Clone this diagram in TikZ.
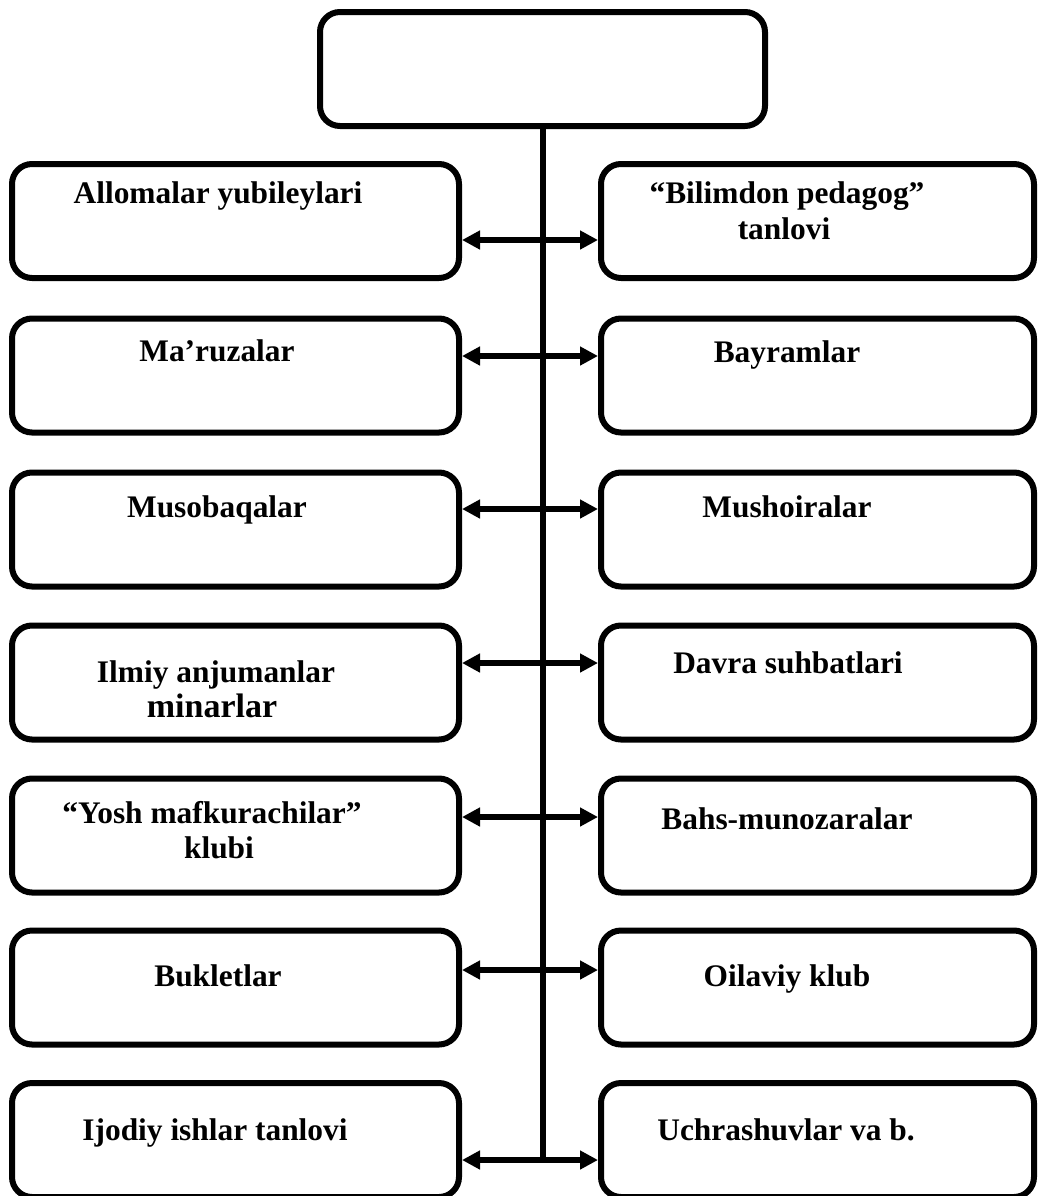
\documentclass[tikz,border=0pt]{standalone}
\usepackage{fontspec}
\setmainfont{Liberation Serif}
\usetikzlibrary{arrows.meta}

\tikzset{
  box/.style={draw, line width=3pt, rounded corners=10pt, inner sep=0pt, minimum height=57pt},
  lbox/.style={box, minimum width=223.5pt},
  rbox/.style={box, minimum width=216.5pt},
  txt/.style={anchor=base, inner sep=0pt, font=\fontsize{15.7}{18}\selectfont\bfseries},
  biarrow/.style={line width=3pt, >={Triangle[length=9pt,width=9pt]}, <->}
}

\begin{document}
\begin{tikzpicture}[x=0.5pt, y=-0.5pt]
    \useasboundingbox (0,0) rectangle (1039,1196);

    % Top box
    \node[box, minimum width=222.5pt] (top) at (542.5,69) {};

    % Left boxes
    \node[lbox] (L1) at (235.5,221) {};
    \node[lbox] (L2) at (235.5,375.5) {};
    \node[lbox] (L3) at (235.5,529.5) {};
    \node[lbox] (L4) at (235.5,682.5) {};
    \node[lbox] (L5) at (235.5,835.5) {};
    \node[lbox] (L6) at (235.5,987.5) {};
    \node[lbox] (L7) at (235.5,1140) {};

    % Right boxes
    \node[rbox] (R1) at (817.5,221) {};
    \node[rbox] (R2) at (817.5,375.5) {};
    \node[rbox] (R3) at (817.5,529.5) {};
    \node[rbox] (R4) at (817.5,682.5) {};
    \node[rbox] (R5) at (817.5,835.5) {};
    \node[rbox] (R6) at (817.5,987.5) {};
    \node[rbox] (R7) at (817.5,1140) {};

    % Left texts
    \node[txt] (L1t) at (218,203) {Allomalar yubileylari};
    \node[txt] (L2t) at (217,361) {Ma’ruzalar};
    \node[txt] (L3t) at (217,517) {Musobaqalar};
    \node[txt] (L4t) at (216,682) {Ilmiy anjumanlar};
    \node[txt, font=\fontsize{17}{20}\selectfont\bfseries] (L4u) at (212,717) {minarlar};
    \node[txt] (L5t) at (212,823) {“Yosh mafkurachilar”};
    \node[txt] (L5u) at (219,858) {klubi};
    \node[txt] (L6t) at (218,986) {Bukletlar};
    \node[txt] (L7t) at (215,1140) {Ijodiy ishlar tanlovi};

    % Right texts
    \node[txt] (R1t) at (787,203) {“Bilimdon pedagog”};
    \node[txt] (R1u) at (784,239) {tanlovi};
    \node[txt] (R2t) at (787,362) {Bayramlar};
    \node[txt] (R3t) at (787,517) {Mushoiralar};
    \node[txt] (R4t) at (788,673) {Davra suhbatlari};
    \node[txt] (R5t) at (787,829) {Bahs-munozaralar};
    \node[txt] (R6t) at (787,986) {Oilaviy klub};
    \node[txt] (R7t) at (786,1140) {Uchrashuvlar va b.};

    % Trunk
    \coordinate (a1) at (542.5,240);
    \coordinate (a2) at (542.5,356);
    \coordinate (a3) at (542.5,509);
    \coordinate (a4) at (542.5,663);
    \coordinate (a5) at (542.5,817);
    \coordinate (a6) at (542.5,970);
    \coordinate (a7) at (542.5,1160);
    \draw[line width=3pt] (top.south) -- (a7);

    % Arrows
    \foreach \i in {1,...,7}
        \draw[biarrow] (a\i -| L\i.east) -- (a\i -| R\i.west);
\end{tikzpicture}
\end{document}
